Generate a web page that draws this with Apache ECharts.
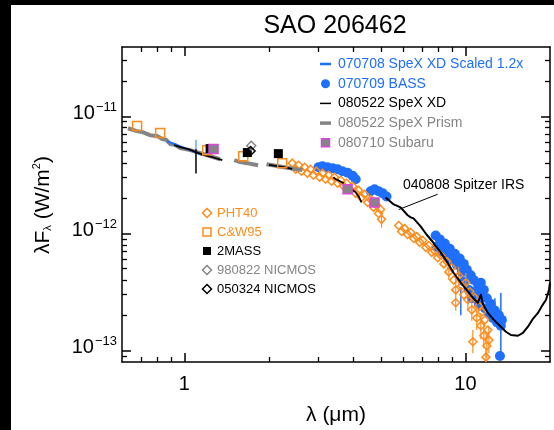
<!DOCTYPE html>
<html>
<head>
<meta charset="utf-8">
<script src="https://cdn.jsdelivr.net/npm/echarts@6/dist/echarts.min.js"></script>
<style>
html, body { margin: 0; padding: 0; background: #000; }
#chart { width: 554px; height: 430px; }
</style>
</head>
<body>
<div id="chart"></div>
<script>
// ---- axes ----
const X_RANGE = [0.6, 20];            // wavelength, micron
const Y_RANGE = [8e-14, 3.9e-11];     // lambda F_lambda, W/m^2
const xMajorTicks = [1, 10];
const xMinorTicks = [0.7, 0.8, 0.9, 2, 3, 4, 5, 6, 7, 8, 9];
const yMajorTicks = [1e-13, 1e-12, 1e-11];
const yMinorTicks = [9e-14, 2e-13, 3e-13, 4e-13, 5e-13, 6e-13, 7e-13, 8e-13, 9e-13,
                     2e-12, 3e-12, 4e-12, 5e-12, 6e-12, 7e-12, 8e-12, 9e-12, 2e-11, 3e-11];

// ---- 080522 SpeX Prism ----
const prismSeg1 = [[0.63,7.9e-12],[0.673,7.5e-12],[0.713,7.3e-12],[0.755,6.9e-12],[0.80,6.8e-12],
  [0.834,6.4e-12],[0.862,6.3e-12],[0.89,5.8e-12],[0.927,5.7e-12],[0.966,5.35e-12],[1.05,5.14e-12],
  [1.14,4.84e-12],[1.24,4.56e-12],[1.34,4.3e-12]];
const prismSeg2 = [[1.505,4.22e-12],[1.58,4.06e-12],[1.675,3.98e-12],[1.75,3.9e-12],[1.83,3.82e-12]];
const prismSeg3 = [[1.96,3.9e-12],[2.06,3.82e-12],[2.16,3.75e-12],[2.27,3.67e-12],[2.38,3.6e-12],
  [2.5,3.53e-12],[2.63,3.47e-12]];

// ---- 080522 SpeX XD ----
const speXXDSeg1 = [[0.92,5.67e-12],[0.966,5.45e-12],[1.032,5.24e-12],[1.10,4.94e-12],[1.177,4.66e-12],
  [1.26,4.47e-12],[1.364,4.22e-12]];
const speXXDSeg2 = [[2.0,3.85e-12],[2.2,3.72e-12],[2.42,3.55e-12]];
const speXXDSeg3 = [[3.39,3.02e-12],[3.46,2.9e-12],[3.53,2.84e-12],[3.62,2.75e-12],[3.69,2.68e-12]];
const speXXDSeg4 = [[3.94,2.38e-12],[4.0,2.3e-12],[4.07,2.24e-12],[4.12,2.28e-12],[4.17,2.07e-12],
  [4.22,2.0e-12],[4.27,1.84e-12]];
const speXXDErr = [[1.10, 3.25e-12, 5.24e-12]];

// ---- 070708 SpeX XD scaled 1.2x ----
const speXScaled = [[0.868,6.14e-12],[0.943,5.67e-12],[1.049,5.14e-12],[1.157,4.66e-12]];
const speXScaledErr = [[1.10, 4.75e-12, 6.3e-12]];

// ---- 070709 BASS ----
const bassNear = [[3.0,3.67e-12],[3.1,3.75e-12],[3.23,3.67e-12],[3.37,3.6e-12],[3.51,3.53e-12],
  [3.65,3.4e-12],[3.81,3.3e-12],[3.97,3.1e-12],[4.07,2.9e-12]];
const bassMid = [[4.60,2.29e-12],[4.75,2.38e-12],[4.91,2.29e-12],[5.08,2.2e-12],[5.24,2.07e-12]];
const bassMir = [[7.84,9.6e-13],[7.91,7.7e-13],[8.11,8.9e-13],[8.24,7.0e-13],[8.45,8.2e-13],[8.59,6.5e-13],
  [8.80,7.4e-13],[8.94,5.9e-13],[9.17,6.7e-13],[9.32,5.4e-13],[9.55,6.1e-13],[9.71,4.7e-13],[9.87,5.5e-13],
  [9.87,3.9e-13],[10.12,4.9e-13],[10.28,3.3e-13],[10.45,4.4e-13],[10.54,2.8e-13],[10.71,4.0e-13],
  [10.89,3.2e-13],[11.07,3.7e-13],[11.16,2.5e-13],[11.35,3.8e-13],[11.44,2.9e-13],[11.63,3.3e-13],
  [11.73,2.3e-13],[11.92,2.8e-13],[12.12,2.1e-13],[12.32,2.5e-13],[12.52,1.9e-13],[12.73,2.2e-13],
  [12.94,1.76e-13],[13.16,2.0e-13],[13.37,1.63e-13],[13.48,1.83e-13],[13.27,9.0e-14]];
const bassErr = [[9.63,2.0e-13,3.5e-13],[11.35,2.4e-13,3.9e-13],[12.73,1.6e-13,2.8e-13],
  [13.37,8.3e-14,3.1e-13]];

// ---- PHT40 ----
const pht40Near = [[2.42,3.98e-12],[2.49,3.53e-12],[2.55,3.82e-12],[2.61,3.40e-12],[2.68,3.67e-12],
  [2.74,3.26e-12],[2.81,3.53e-12],[2.88,3.14e-12],[2.95,3.40e-12],[3.03,3.02e-12],[3.10,3.26e-12],
  [3.18,2.90e-12],[3.26,3.14e-12],[3.34,2.79e-12],[3.42,3.02e-12],[3.51,2.68e-12],[3.60,2.84e-12],
  [3.69,2.53e-12],[3.78,2.68e-12],[3.87,2.38e-12],[3.97,2.53e-12],[4.07,2.20e-12],[4.17,2.33e-12],
  [4.27,2.03e-12],[4.38,2.16e-12],[4.49,1.84e-12],[4.60,1.95e-12],[4.71,1.67e-12],[4.83,1.74e-12],
  [4.91,1.48e-12],[4.99,1.60e-12],[5.03,1.32e-12]];
const pht40Mir = [[5.79,1.17e-12],[5.93,1.04e-12],[6.08,1.10e-12],[6.23,9.8e-13],[6.39,1.02e-12],
  [6.55,9.05e-13],[6.71,9.4e-13],[6.88,8.4e-13],[7.05,8.7e-13],[7.23,7.6e-13],[7.41,7.9e-13],[7.59,6.9e-13],
  [7.78,7.1e-13],[7.97,6.2e-13],[8.17,6.5e-13],[8.38,5.5e-13],[8.59,5.75e-13],[8.73,4.7e-13],[8.94,5.1e-13],
  [9.09,4.0e-13],[9.24,3.3e-13],[9.24,2.56e-13],[9.47,4.36e-13],[9.71,3.58e-13],[9.87,3.0e-13],
  [10.03,3.8e-13],[10.2,2.72e-13],[10.37,3.18e-13],[10.54,2.23e-13],[10.63,1.19e-13],[10.8,2.83e-13],
  [10.98,1.9e-13],[11.16,2.41e-13],[11.35,1.63e-13],[11.44,2.14e-13],[11.63,1.34e-13],[11.73,1.83e-13],
  [11.92,1.1e-13],[12.02,1.5e-13],[11.83,8.8e-14],[12.12,1.23e-13]];
const pht40Err = [[5.03,1.12e-12,1.5e-12],[8.73,4.0e-13,5.6e-13],[9.24,2.2e-13,4.2e-13],
  [9.47,3.6e-13,5.2e-13],[10.03,3.0e-13,4.6e-13],[10.2,2.2e-13,3.4e-13],[10.54,1.8e-13,2.8e-13],
  [10.63,9.5e-14,1.5e-13],[10.98,1.5e-13,2.4e-13],[11.35,1.25e-13,2.1e-13],[11.63,1.05e-13,1.75e-13],
  [11.83,8.1e-14,1.05e-13],[11.92,8.6e-14,1.4e-13],[12.12,9.5e-14,1.6e-13]];

// ---- photometry ----
const cw95 = [[0.679,8.25e-12],[0.82,7.19e-12],[1.206,5.14e-12],[1.62,4.56e-12],[2.23,3.98e-12]];
const twoMass = [[1.235,5.3e-12],[1.675,4.9e-12],[2.16,4.8e-12]];
const nicmos980822 = [[1.73,5.6e-12]];
const nicmos050324 = [[1.72,5.05e-12]];
const subaru = [[1.27,5.25e-12],[3.81,2.38e-12],[4.75,1.84e-12]];

// ---- 040808 Spitzer IRS ----
const spitzerIRS = [[5.20,2.03e-12],[5.56,1.77e-12],[5.88,1.67e-12],[6.23,1.43e-12],[6.39,1.37e-12],
  [6.55,1.34e-12],[6.93,1.15e-12],[7.27,9.8e-13],[7.65,8.5e-13],[7.78,8.0e-13],[8.17,6.9e-13],
  [8.65,5.6e-13],[9.09,4.6e-13],[9.63,3.8e-13],[10.2,3.2e-13],[10.71,2.77e-13],[11.07,2.56e-13],
  [11.35,3.0e-13],[11.54,2.51e-13],[12.02,2.1e-13],[12.63,1.83e-13],[13.37,1.6e-13],[13.94,1.45e-13],
  [14.52,1.36e-13],[15.38,1.34e-13],[16.02,1.42e-13],[16.69,1.6e-13],[17.39,1.87e-13],[18.12,2.1e-13],
  [18.73,2.41e-13],[19.36,2.72e-13],[19.84,3.31e-13],[20.0,3.8e-13]];
const spitzerLeader = [[7.97,2.16e-12],[5.79,1.6e-12]];

// ---- styling ----
const FONT = '"Liberation Sans", Arial, Helvetica, sans-serif';
const BLUE = '#1f6fff', ORANGE = '#ff8c1a', GRAY = '#858585', MAGENTA = '#dd44dd', BLACK = '#000';

function xAxisDef(position, ticks, len, tickWidth, withLabels, withLine) {
  return {
    type: 'log', logBase: 10, min: X_RANGE[0], max: X_RANGE[1], position,
    axisLine: { show: withLine, onZero: false, lineStyle: { color: BLACK, width: 1.5 } },
    axisTick: { show: true, inside: true, length: len, customValues: ticks,
                lineStyle: { color: BLACK, width: tickWidth } },
    axisLabel: withLabels ? {
      show: true, customValues: xMajorTicks, margin: 12, color: BLACK,
      fontSize: 20, fontFamily: FONT, formatter: v => String(Math.round(v))
    } : { show: false },
    splitLine: { show: false }, minorTick: { show: false }
  };
}
function yAxisDef(position, ticks, len, tickWidth, withLabels, withLine) {
  return {
    type: 'log', logBase: 10, min: Y_RANGE[0], max: Y_RANGE[1], position,
    axisLine: { show: withLine, onZero: false, lineStyle: { color: BLACK, width: 1.5 } },
    axisTick: { show: true, inside: true, length: len, customValues: ticks,
                lineStyle: { color: BLACK, width: tickWidth } },
    axisLabel: withLabels ? {
      show: true, customValues: yMajorTicks, margin: 5, color: BLACK,
      formatter: v => '{b|10}{s|\u2212' + Math.round(-Math.log10(v)) + '}',
      rich: {
        b: { fontSize: 20, fontFamily: FONT, color: BLACK, padding: [0, 0, 6, 0] },
        s: { fontSize: 13, fontFamily: FONT, color: BLACK, padding: [0, 0, 18, 1] }
      }
    } : { show: false },
    splitLine: { show: false }, minorTick: { show: false }
  };
}

function lineSeries(name, data, color, width, z) {
  return { name, type: 'line', data, symbol: 'none', showSymbol: false, silent: true, z,
           lineStyle: { color, width, join: 'round' }, itemStyle: { color }, clip: true };
}
function scatterSeries(name, data, symbol, size, fill, stroke, bw, z) {
  return { name, type: 'scatter', data, symbol, symbolSize: size, silent: true, z,
           itemStyle: { color: fill, borderColor: stroke, borderWidth: bw, opacity: 1 } };
}
function errorBarSeries(name, data, color, width, z) {
  return {
    name, type: 'custom', data, silent: true, z, clip: true,
    encode: { x: 0, y: [1, 2] },
    renderItem: (params, api) => {
      const lo = api.coord([api.value(0), api.value(1)]);
      const hi = api.coord([api.value(0), api.value(2)]);
      return { type: 'line', shape: { x1: lo[0], y1: lo[1], x2: hi[0], y2: hi[1] },
               style: { stroke: color, lineWidth: width } };
    }
  };
}

// ---- legends and titles ----
const upperLegend = [
  { text: '070708 SpeX XD Scaled 1.2x', color: BLUE, mark: 'dash', w: 2.5 },
  { text: '070709 BASS', color: BLUE, mark: 'dot' },
  { text: '080522 SpeX XD', color: BLACK, mark: 'dash', w: 1.5 },
  { text: '080522 SpeX Prism', color: GRAY, mark: 'dash', w: 3.5 },
  { text: '080710 Subaru', color: GRAY, mark: 'subaru' }
];
const lowerLegend = [
  { text: 'PHT40', color: ORANGE, mark: 'openDiamond' },
  { text: 'C&W95', color: ORANGE, mark: 'openSquare' },
  { text: '2MASS', color: BLACK, mark: 'square' },
  { text: '980822 NICMOS', color: GRAY, mark: 'openDiamond' },
  { text: '050324 NICMOS', color: BLACK, mark: 'openDiamond' }
];

function legendMark(kind, color, cx, cy, w) {
  switch (kind) {
    case 'dash': return { type: 'line', shape: { x1: cx - 5.5, y1: cy, x2: cx + 5.5, y2: cy },
                          style: { stroke: color, lineWidth: w } };
    case 'dot': return { type: 'circle', shape: { cx, cy, r: 4.5 }, style: { fill: color } };
    case 'subaru': return { type: 'rect', shape: { x: cx - 4, y: cy - 4, width: 8, height: 8 },
                            style: { fill: GRAY, stroke: MAGENTA, lineWidth: 1.5 } };
    case 'square': return { type: 'rect', shape: { x: cx - 4, y: cy - 4, width: 8, height: 8 },
                            style: { fill: color } };
    case 'openSquare': return { type: 'rect', shape: { x: cx - 4, y: cy - 4, width: 8, height: 8 },
                                style: { fill: null, stroke: color, lineWidth: 1.5 } };
    default: return { type: 'polygon',
                      shape: { points: [[cx, cy - 4.5], [cx + 4.5, cy], [cx, cy + 4.5], [cx - 4.5, cy]] },
                      style: { fill: null, stroke: color, lineWidth: 1.5 } };
  }
}

const graphics = [
  { type: 'rect', shape: { x: 0, y: 0, width: 11, height: 430 }, style: { fill: '#000' }, z: 100 },
  { type: 'rect', shape: { x: 0, y: 0, width: 554, height: 5 }, style: { fill: '#000' }, z: 100 },
  { type: 'text', x: 335, y: 26, style: { text: 'SAO 206462', fill: BLACK, fontSize: 25,
    fontFamily: FONT, align: 'center', verticalAlign: 'middle' } },
  { type: 'text', x: 336, y: 415, style: { text: '\u03bb (\u03bcm)', fill: BLACK, fontSize: 21,
    fontFamily: FONT, align: 'center', verticalAlign: 'middle' } },
  { type: 'text', x: 43, y: 205, rotation: Math.PI / 2, style: {
    text: '{m|\u03bbF}{sub|\u03bb}{m| (W/m}{sup|2}{m|)}', align: 'center', verticalAlign: 'middle',
    rich: {
      m: { fontSize: 21, fontFamily: FONT, fill: BLACK },
      sub: { fontSize: 11, fontFamily: FONT, fill: BLACK, padding: [10, 0, 0, 0] },
      sup: { fontSize: 11, fontFamily: FONT, fill: BLACK, padding: [0, 0, 12, 0] }
    } } },
  { type: 'text', x: 403, y: 185, style: { text: '040808 Spitzer IRS', fill: BLACK, fontSize: 14,
    fontFamily: FONT, align: 'left', verticalAlign: 'middle' } }
];
upperLegend.forEach((it, i) => {
  const y = 64 + i * 19.7;
  graphics.push(legendMark(it.mark, it.color, 325.5, y, it.w));
  graphics.push({ type: 'text', x: 338, y, style: { text: it.text, fill: it.color, fontSize: 14,
    fontFamily: FONT, align: 'left', verticalAlign: 'middle' } });
});
lowerLegend.forEach((it, i) => {
  const y = 213 + i * 19;
  graphics.push(legendMark(it.mark, it.color, 207, y));
  graphics.push({ type: 'text', x: 217, y, style: { text: it.text, fill: it.color, fontSize: 13,
    fontFamily: FONT, align: 'left', verticalAlign: 'middle' } });
});

const chart = echarts.init(document.getElementById('chart'), null, { renderer: 'canvas' });
chart.setOption({
  animation: false,
  backgroundColor: '#fff',
  grid: { left: 122, right: 4, top: 47, bottom: 68, containLabel: false },
  xAxis: [
    xAxisDef('bottom', xMajorTicks, 9, 1.5, true, true),
    xAxisDef('bottom', xMinorTicks, 5, 1.3, false, false),
    xAxisDef('top', xMajorTicks, 9, 1.5, false, true),
    xAxisDef('top', xMinorTicks, 5, 1.3, false, false)
  ],
  yAxis: [
    yAxisDef('left', yMajorTicks, 9, 1.5, true, true),
    yAxisDef('left', yMinorTicks, 5, 1.3, false, false),
    yAxisDef('right', yMajorTicks, 9, 1.5, false, true),
    yAxisDef('right', yMinorTicks, 5, 1.3, false, false)
  ],
  series: [
    errorBarSeries('BASS errors', bassErr, BLUE, 1.5, 2),
    scatterSeries('070709 BASS', bassNear.concat(bassMid, bassMir), 'circle', 10, BLUE, BLUE, 0, 2),
    errorBarSeries('PHT40 errors', pht40Err, ORANGE, 1.2, 3),
    scatterSeries('PHT40', pht40Near.concat(pht40Mir), 'diamond', 8, 'rgba(0,0,0,0)', ORANGE, 1.5, 3),
    lineSeries('080522 SpeX Prism', prismSeg1, GRAY, 4, 4),
    lineSeries('080522 SpeX Prism', prismSeg2, GRAY, 4, 4),
    lineSeries('080522 SpeX Prism', prismSeg3, GRAY, 4, 4),
    lineSeries('070708 SpeX XD Scaled 1.2x', speXScaled, BLUE, 2, 5),
    errorBarSeries('SpeX scaled errors', speXScaledErr, '#6aa6ff', 1.5, 5),
    lineSeries('080522 SpeX XD', speXXDSeg1, BLACK, 1.8, 6),
    lineSeries('080522 SpeX XD', speXXDSeg2, BLACK, 1.8, 6),
    lineSeries('080522 SpeX XD', speXXDSeg3, BLACK, 1.8, 6),
    lineSeries('080522 SpeX XD', speXXDSeg4, BLACK, 1.8, 6),
    errorBarSeries('SpeX XD errors', speXXDErr, BLACK, 1.5, 6),
    lineSeries('040808 Spitzer IRS', spitzerIRS, BLACK, 2, 6),
    lineSeries('Spitzer label leader', spitzerLeader, BLACK, 1, 6),
    scatterSeries('C&W95', cw95, 'rect', 9, 'rgba(0,0,0,0)', ORANGE, 1.5, 7),
    scatterSeries('2MASS', twoMass, 'rect', 9, BLACK, BLACK, 0, 7),
    scatterSeries('980822 NICMOS', nicmos980822, 'diamond', 9, 'rgba(0,0,0,0)', GRAY, 1.5, 8),
    scatterSeries('050324 NICMOS', nicmos050324, 'diamond', 9, 'rgba(0,0,0,0)', BLACK, 1.5, 8),
    scatterSeries('080710 Subaru', subaru, 'rect', 9, GRAY, MAGENTA, 1.5, 9)
  ],
  graphic: graphics
});
</script>
</body>
</html>
